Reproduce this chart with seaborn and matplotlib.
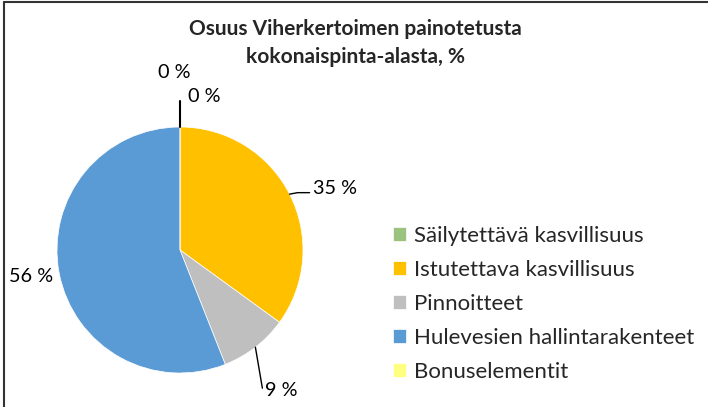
import numpy as np
import matplotlib
matplotlib.use("Agg")
import matplotlib.pyplot as plt
import seaborn as sns

# data
categories = ['Säilytettävä kasvillisuus', 'Istutettava kasvillisuus', 'Pinnoitteet',
              'Hulevesien hallintarakenteet', 'Bonuselementit']
shares = [0, 35, 9, 56, 0]
labels = ['0 %', '35 %', '9 %', '56 %', '0 %']
colors = ['#9BC27E', '#FFC000', '#BFBFBF', '#5B9BD5', '#FFFF80']
title = 'Osuus Viherkertoimen painotetusta\nkokonaispinta-alasta, %'

sns.set_theme(style='white')
plt.rcParams['font.family'] = ['Lato', 'DejaVu Sans']

W, H = 708, 407
fig = plt.figure(figsize=(W / 100, H / 100), dpi=100)
ax = fig.add_axes([0, 0, 1, 1])

# ---------- pie ----------
cx, cy, R = 180, H - 250, 123
wedges, _ = ax.pie(shares, colors=colors, startangle=90, counterclock=False,
                   center=(cx, cy), radius=R, frame=True,
                   wedgeprops=dict(linewidth=0.5, edgecolor='white'))
ax.set_xlim(0, W)
ax.set_ylim(0, H)
ax.set_aspect('equal')
ax.axis('off')

# label offsets (pixels, from edge point of each wedge)
offsets = [(-6, 54), (23, 6), (10, -43), (-6, -3), (8, 31)]
for w, lab, (dx, dy) in zip(wedges, labels, offsets):
    mid = np.deg2rad((w.theta1 + w.theta2) / 2)
    ex, ey = cx + R * np.cos(mid), cy + R * np.sin(mid)
    ha = 'right' if lab == '56 %' else ('left' if dx > 0 else 'center')
    ax.text(ex + dx, ey + dy, lab, fontsize=14.3, ha=ha, va='center', color='black')
    # leader lines
    if lab == '35 %':
        ax.plot([ex, ex + 8, ex + dx - 3], [ey, ey + 1.5, ey + 1.5], color='black', lw=1)
    elif lab == '9 %':
        ax.plot([ex, ex + dx - 3], [ey, ey + dy + 2], color='black', lw=1)
    elif w.theta2 - w.theta1 == 0 and dx > 0:
        ax.plot([ex, ex], [ey, ey + 26], color='black', lw=1.5)

# ---------- legend ----------
leg = ax.legend(wedges, categories, loc='upper left', bbox_to_anchor=(393 / W, 1 - 226 / H),
                frameon=False, fontsize=16, handlelength=0.6, handleheight=0.6,
                handletextpad=0.35, labelspacing=0.63, borderaxespad=0, borderpad=0)

fig.text(0.502, 1 - 43 / H, title, ha='center', va='center', fontsize=15,
         fontweight='bold', linespacing=1.45)

# border lines of the chart area (top, left)
fig.add_artist(plt.Line2D([4 / W, 1], [1 - 2 / H, 1 - 2 / H], color='#333333', lw=1.5,
                          transform=fig.transFigure))
fig.add_artist(plt.Line2D([4 / W, 4 / W], [0, 1 - 2 / H], color='#333333', lw=1.5,
                          transform=fig.transFigure))

fig.savefig('out.png', dpi=100)
